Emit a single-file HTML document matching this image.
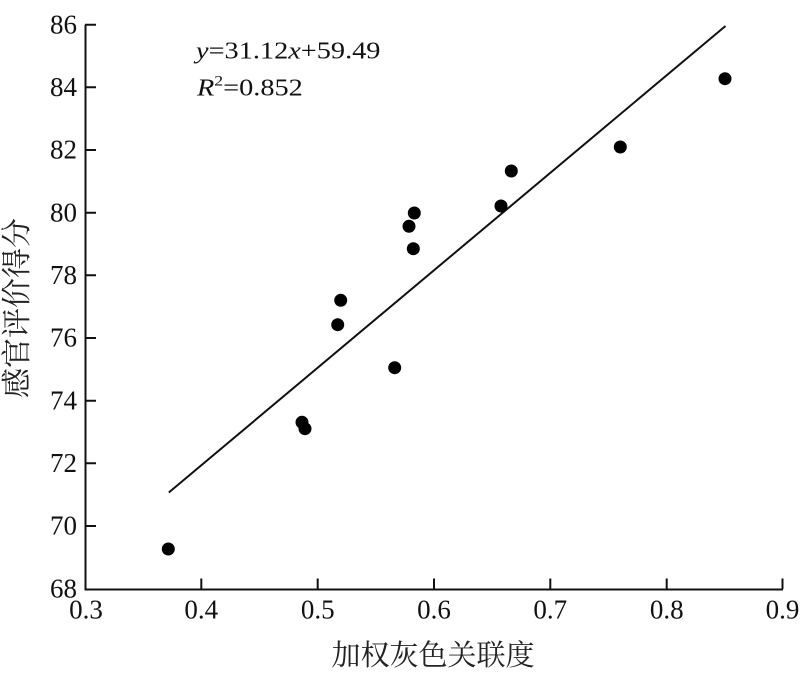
<!DOCTYPE html>
<html>
<head>
<meta charset="utf-8">
<style>
  html,body{margin:0;padding:0;background:#fff;}
  svg{display:block;}
  .num{font-family:"Liberation Serif","Times New Roman",serif;font-size:27px;fill:#111;}
  .eq{font-family:"Liberation Serif","Times New Roman",serif;font-size:24px;fill:#111;}
  .cjk{font-family:"Liberation Serif","Noto Serif CJK SC","Noto Sans CJK SC",serif;font-size:29px;fill:#222;}
</style>
</head>
<body>
<svg width="800" height="680" viewBox="0 0 800 680" xmlns="http://www.w3.org/2000/svg">
  <rect width="800" height="680" fill="#fff"/>
  <!-- axes -->
  <g stroke="#111" stroke-width="2" fill="none">
    <path d="M85.5 24.7 V589.5 H783"/>
    <path d="M85 24.7 H96 M85 87.3 H96 M85 150 H96 M85 212.7 H96 M85 275.3 H96 M85 338 H96 M85 400.7 H96 M85 463.3 H96 M85 526 H96"/>
    <path d="M201.3 589 V578.5 M317.7 589 V578.5 M434 589 V578.5 M550.3 589 V578.5 M666.7 589 V578.5 M782.5 589 V578.5"/>
  </g>
  <!-- y tick labels -->
  <g class="num" text-anchor="end">
    <text x="77" y="33.5">86</text>
    <text x="77" y="96">84</text>
    <text x="77" y="158.7">82</text>
    <text x="77" y="221.4">80</text>
    <text x="77" y="284">78</text>
    <text x="77" y="346.7">76</text>
    <text x="77" y="409.4">74</text>
    <text x="77" y="472">72</text>
    <text x="77" y="534.7">70</text>
    <text x="77" y="597.4">68</text>
  </g>
  <!-- x tick labels -->
  <g class="num" text-anchor="middle">
    <text x="86" y="618.5">0.3</text>
    <text x="201.3" y="618.5">0.4</text>
    <text x="317.7" y="618.5">0.5</text>
    <text x="434" y="618.5">0.6</text>
    <text x="550.3" y="618.5">0.7</text>
    <text x="666.7" y="618.5">0.8</text>
    <text x="782.5" y="618.5">0.9</text>
  </g>
  <!-- regression line -->
  <line x1="168.8" y1="492.5" x2="725.5" y2="26" stroke="#111" stroke-width="2"/>
  <!-- points -->
  <g fill="#000">
    <circle cx="168.3" cy="549" r="6.5"/>
    <circle cx="302" cy="422.3" r="6.5"/>
    <circle cx="305" cy="428.7" r="6.5"/>
    <circle cx="337.7" cy="324.7" r="6.5"/>
    <circle cx="340.7" cy="300.3" r="6.5"/>
    <circle cx="394.7" cy="367.7" r="6.5"/>
    <circle cx="409" cy="226.3" r="6.5"/>
    <circle cx="414.3" cy="213" r="6.5"/>
    <circle cx="413.3" cy="248.7" r="6.5"/>
    <circle cx="501" cy="206" r="6.5"/>
    <circle cx="511.3" cy="171" r="6.5"/>
    <circle cx="620.3" cy="147" r="6.5"/>
    <circle cx="725" cy="78.7" r="6.5"/>
  </g>
  <!-- equation -->
  <g transform="translate(196,58.5) scale(1.18,1)">
    <text class="eq" x="0" y="0"><tspan font-style="italic">y</tspan>=31.12<tspan font-style="italic">x</tspan>+59.49</text>
  </g>
  <g transform="translate(197,95.5) scale(1.18,1)">
    <text class="eq" x="0" y="0"><tspan font-style="italic">R</tspan><tspan font-size="15" dy="-10">2</tspan><tspan dy="10">=0.852</tspan></text>
  </g>
  <!-- axis labels -->
  <text class="cjk" x="433" y="665" text-anchor="middle">加权灰色关联度</text>
  <text class="cjk" transform="translate(27,308) rotate(-90)" text-anchor="middle" style="font-size:30px">感官评价得分</text>
</svg>
</body>
</html>
